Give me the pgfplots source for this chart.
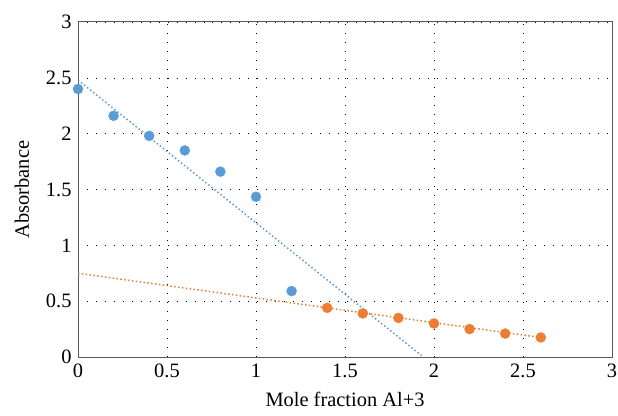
\documentclass[border=0pt]{standalone}
\usepackage{fontspec}
\setmainfont{Liberation Serif}
\usepackage{pgfplots}
\pgfplotsset{compat=1.18}
\definecolor{cblue}{RGB}{91,155,213}
\definecolor{corange}{RGB}{237,125,49}
\definecolor{frame}{RGB}{89,89,89}
\begin{document}
\begin{tikzpicture}
\begin{axis}[
  scale only axis,
  width=534bp, height=335bp,
  xmin=0, xmax=3, ymin=0, ymax=3,
  xtick={0,0.5,1,1.5,2,2.5,3},
  ytick={0,0.5,1,1.5,2,2.5,3},
  xticklabels={0,0.5,1,1.5,2,2.5,3},
  yticklabels={0,0.5,1,1.5,2,2.5,3},
  major tick length=0pt,
  grid=major,
  major grid style={black, line width=0.6pt, dash pattern=on 0.8pt off 8.2pt},
  axis line style={frame, line width=1pt},
  ticklabel style={font=\fontsize{20.5}{24}\selectfont},
  xticklabel style={yshift=-3bp},
  yticklabel style={xshift=-3bp},
  xlabel={Mole fraction Al+3},
  ylabel={Absorbance},
  label style={font=\fontsize{20.5}{24}\selectfont},
  xlabel style={yshift=-8bp},
  ylabel style={yshift=10bp},
  clip=false,
]
\addplot[cblue, line width=1.5pt, dash pattern=on 1.5pt off 2.4pt] coordinates {(0,2.48) (1.94,0)};
\addplot[corange, line width=1.5pt, dash pattern=on 1.5pt off 2.4pt] coordinates {(0,0.75) (2.6,0.175)};
\addplot[only marks, mark=*, mark size=5bp, cblue, mark options={draw=cblue, fill=cblue}] coordinates {
(0,2.40) (0.2,2.16) (0.4,1.98) (0.6,1.85) (0.8,1.66) (1.0,1.435) (1.2,0.59)};
\addplot[only marks, mark=*, mark size=5bp, corange, mark options={draw=corange, fill=corange}] coordinates {
(1.4,0.44) (1.6,0.39) (1.8,0.35) (2.0,0.30) (2.2,0.25) (2.4,0.21) (2.6,0.175)};
\end{axis}
\pgfresetboundingbox
\path (-78bp,-59bp) rectangle (540bp,357bp);
\end{tikzpicture}
\end{document}
